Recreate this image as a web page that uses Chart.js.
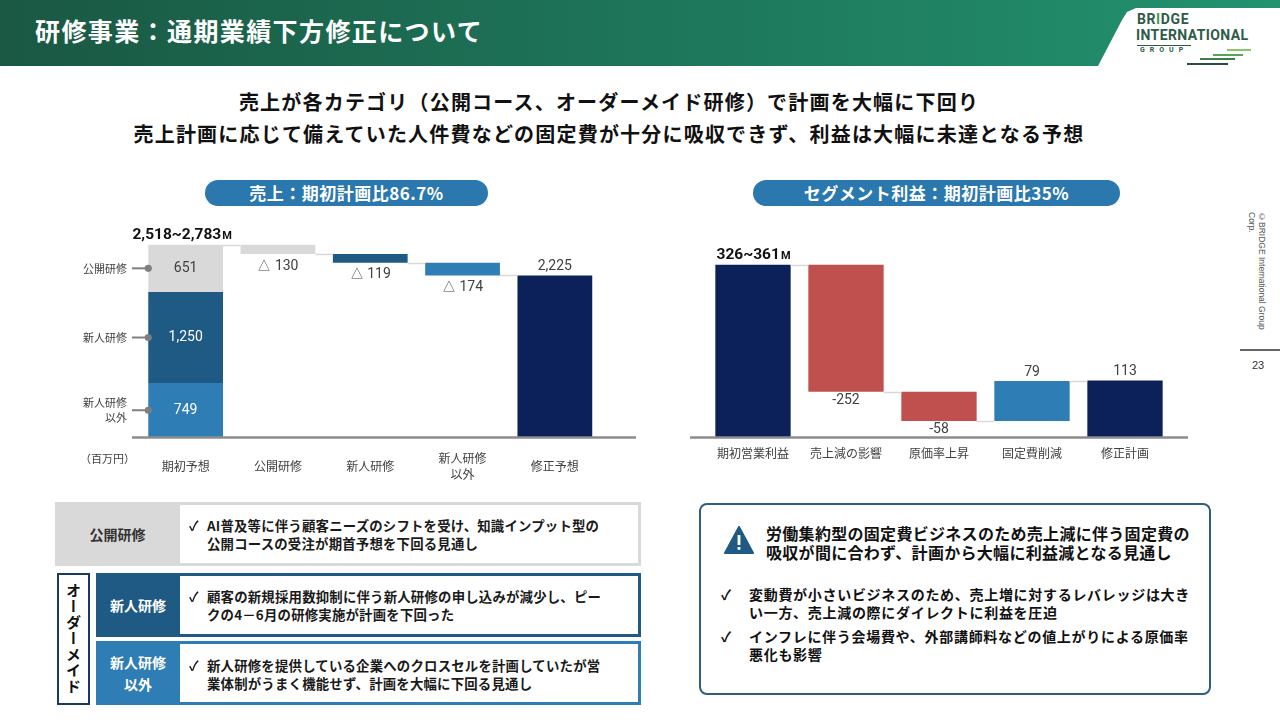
<!DOCTYPE html>
<html lang="ja">
<head>
<meta charset="utf-8">
<script src="https://cdn.jsdelivr.net/npm/chart.js@4.4.1/dist/chart.umd.min.js"></script>
<style>
  body { margin:0; width:1280px; height:720px; position:relative; overflow:hidden; background:#fff;
         font-family:"Noto Sans CJK JP", sans-serif; color:#222; }
  .abs { position:absolute; }
  .band { left:0; top:0; width:1280px; height:66px;
          background:linear-gradient(90deg, #1a5843 0%, #1d7257 45%, #22926f 100%);
          clip-path:polygon(0 0, 100% 0, 100% 8px, 1136px 8px, 1127px 12px, 1122px 20px, 1098px 66px, 0 66px); }
  .title { left:35px; top:12px; font-size:25px; font-weight:700; color:#fff; letter-spacing:1.4px; }
  .lead { left:0; width:1218px; text-align:center; font-size:20px; font-weight:700; color:#111; letter-spacing:1.2px; }
  .pill { height:26px; line-height:26px; border-radius:13px; background:#2a78ae; color:#fff;
          font-size:17px; font-weight:700; text-align:center; letter-spacing:0.5px; }
  .logo { color:#2d5b46; font-weight:700; font-family:"Roboto", sans-serif; }
  .stripe { height:2px; }
  .box { border:3px solid #d9d9d9; box-sizing:border-box; background:#fff; }
  .lab { display:flex; align-items:center; justify-content:center; text-align:center;
         font-size:14px; font-weight:700; line-height:22px; }
  .txt { font-size:13.4px; font-weight:700; line-height:18px; color:#1a1a1a; letter-spacing:0.2px; }
  .chk { position:absolute; left:0; top:0; }
</style>
</head>
<body>
<div class="abs band"></div>
<div class="abs title">研修事業：通期業績下方修正について</div>

<div class="abs logo" style="left:1137px; top:11px; font-size:14px; letter-spacing:0.6px;">BR<span style="color:#3f9b4c">I</span>DGE</div>
<div class="abs logo" style="left:1136px; top:27px; font-size:14px; letter-spacing:0.4px;">INTERNATIONAL</div>
<div class="abs" style="left:1137px; top:45px; width:54px; height:1px; background:#2d5b46;"></div>
<div class="abs logo" style="left:1140px; top:46px; font-size:7px; letter-spacing:5px;">GROUP</div>
<div class="abs stripe" style="left:1227px; top:49px; width:24px; background:#8cc56a;"></div>
<div class="abs stripe" style="left:1213px; top:54px; width:30px; background:#5aa552;"></div>
<div class="abs stripe" style="left:1200px; top:58px; width:35px; background:#3b7d4c;"></div>
<div class="abs stripe" style="left:1187px; top:63px; width:41px; background:#27503b;"></div>

<div class="abs lead" style="top:87px;">売上が各カテゴリ（公開コース、オーダーメイド研修）で計画を大幅に下回り</div>
<div class="abs lead" style="top:119px;">売上計画に応じて備えていた人件費などの固定費が十分に吸収できず、利益は大幅に未達となる予想</div>

<div class="abs pill" style="left:205px; top:180px; width:283px;">売上：期初計画比86.7%</div>
<div class="abs pill" style="left:753px; top:180px; width:367px;">セグメント利益：期初計画比35%</div>

<canvas id="sales" class="abs" style="left:60px; top:215px;" width="590" height="275"></canvas>
<canvas id="profit" class="abs" style="left:680px; top:215px;" width="520" height="275"></canvas>
<div class="abs" style="left:80px; top:450px; font-size:11px; color:#404040;">（百万円）</div>

<div class="abs" style="left:1247px; top:212px; height:132px; writing-mode:vertical-rl; font-family:'Liberation Sans', sans-serif; font-size:8.5px; line-height:10px; color:#555;">©BRIDGE International Group Corp.</div>
<div class="abs" style="left:1240px; top:349px; width:40px; height:2px; background:#666;"></div>
<div class="abs" style="left:1252px; top:359px; font-family:'Liberation Sans', sans-serif; font-size:11px; color:#333;">23</div>

<!-- bottom left -->
<div class="abs box" style="left:55px; top:502px; width:586px; height:64px;"></div>
<div class="abs lab" style="left:55px; top:502px; width:125px; height:64px; background:#d9d9d9; color:#333;">公開研修</div>
<div class="abs txt" style="left:189px; top:516px;"><span class="chk">✓</span><div style="margin-left:18px;">AI普及等に伴う顧客ニーズのシフトを受け、知識インプット型の<br>公開コースの受注が期首予想を下回る見通し</div></div>

<div class="abs" style="left:57px; top:573px; width:33px; height:132px; border:2px solid #1b3a5f; box-sizing:border-box;
     display:flex; align-items:center; justify-content:center;">
  <div style="writing-mode:vertical-rl; text-orientation:upright; font-size:15px; font-weight:700; letter-spacing:1px; color:#111;">オーダーメイド</div>
</div>

<div class="abs box" style="left:96px; top:573px; width:545px; height:64px; border-color:#1f5a85;"></div>
<div class="abs lab" style="left:96px; top:573px; width:84px; height:64px; background:#1f5a85; color:#fff;">新人研修</div>
<div class="abs txt" style="left:189px; top:587px;"><span class="chk">✓</span><div style="margin-left:18px;">顧客の新規採用数抑制に伴う新人研修の申し込みが減少し、ピー<br>クの4－6月の研修実施が計画を下回った</div></div>

<div class="abs box" style="left:96px; top:641px; width:545px; height:64px; border-color:#2e7db5;"></div>
<div class="abs lab" style="left:96px; top:641px; width:84px; height:64px; background:#2e7db5; color:#fff;">新人研修<br>以外</div>
<div class="abs txt" style="left:189px; top:656px;"><span class="chk">✓</span><div style="margin-left:18px;">新人研修を提供している企業へのクロスセルを計画していたが営<br>業体制がうまく機能せず、計画を大幅に下回る見通し</div></div>

<!-- bottom right -->
<div class="abs" style="left:699px; top:503px; width:512px; height:192px; border:2px solid #2f5f7f; border-radius:8px; box-sizing:border-box;"></div>
<svg class="abs" style="left:724px; top:526px;" width="30" height="28" viewBox="0 0 30 28">
  <path d="M15 1 L29 27 L1 27 Z" fill="#1f5a85" stroke="#1f5a85" stroke-width="2" stroke-linejoin="round"/>
  <rect x="13.6" y="9" width="2.8" height="10" fill="#fff"/>
  <rect x="13.6" y="21" width="2.8" height="2.8" fill="#fff"/>
</svg>
<div class="abs" style="left:766px; top:524px; font-size:16px; font-weight:700; line-height:19px; color:#111; letter-spacing:0.3px;">労働集約型の固定費ビジネスのため売上減に伴う固定費の<br>吸収が間に合わず、計画から大幅に利益減となる見通し</div>
<div class="abs" style="left:721px; top:585px; font-size:14px; font-weight:700; line-height:18px; color:#111;">✓</div>
<div class="abs" style="left:749px; top:585px; font-size:14px; font-weight:700; line-height:18px; color:#111; letter-spacing:0.7px;">変動費が小さいビジネスのため、売上増に対するレバレッジは大き<br>い一方、売上減の際にダイレクトに利益を圧迫</div>
<div class="abs" style="left:721px; top:627px; font-size:14px; font-weight:700; line-height:18px; color:#111;">✓</div>
<div class="abs" style="left:749px; top:627px; font-size:14px; font-weight:700; line-height:18px; color:#111; letter-spacing:0.7px;">インフレに伴う会場費や、外部講師料などの値上がりによる原価率<br>悪化も影響</div>

<script>
// ---- 売上 (百万円)
const salesCategories = ['期初予想', '公開研修', '新人研修', ['新人研修', '以外'], '修正予想'];
const salesSegmentNames = [['新人研修', '以外'], ['新人研修'], ['公開研修']]; // bottom -> top
const salesInitial = [749, 1250, 651];       // 新人研修以外, 新人研修, 公開研修
const salesDecrease = [130, 119, 174];       // 公開研修, 新人研修, 新人研修以外
const salesRevised = 2225;
const salesInitialRange = '2,518~2,783';
const salesAxisMax = 2920;

// ---- セグメント利益 (百万円)
const profitCategories = ['期初営業利益', '売上減の影響', '原価率上昇', '固定費削減', '修正計画'];
const profitInitial = 343;
const profitChanges = [-252, -58, 79];
const profitRevised = 113;
const profitInitialRange = '326~361';
const profitAxisMax = 422;

const NAVY = '#0c2159', DARK = '#1f5a85', MID = '#2e7db5', GRAY = '#d9d9d9', RED = '#c0504d';
const fmt = v => v.toLocaleString('en-US');

// floating ranges for the sales waterfall
const salesTotal = salesInitial.reduce((a, b) => a + b, 0);
let acc = 0;
const salesStack = salesInitial.map(v => { const r = [acc, acc + v]; acc += v; return r; });
let lvl = salesTotal;
const salesDrop = salesDecrease.map(v => { const r = [lvl - v, lvl]; lvl -= v; return r; });
const salesLevels = [salesTotal, salesDrop[0][0], salesDrop[1][0], salesDrop[2][0]];

const salesGray = [salesStack[2], salesDrop[0], null, null, null];
const salesDark = [salesStack[1], null, salesDrop[1], null, null];
const salesMid = [salesStack[0], null, null, salesDrop[2], null];
const salesNavy = [null, null, null, null, [0, salesRevised]];

// floating ranges for the profit waterfall
let p = profitInitial;
const profitSteps = profitChanges.map(v => { const r = [p, p + v]; p += v; return r; });
const profitNavy = [[0, profitInitial], null, null, null, [0, profitRevised]];
const profitRed = [null, profitSteps[0], profitSteps[1], null, null];
const profitBlue = [null, null, null, profitSteps[2], null];
const profitLevels = [profitInitial, profitSteps[0][1], profitSteps[1][1], profitSteps[2][1]];

function barDs(data, color) {
  return { data: data, backgroundColor: color, borderWidth: 0, grouped: false,
           barPercentage: 0.81, categoryPercentage: 1 };
}

function xAxis(pad, height) {
  return {
    grid: { display: false, drawTicks: false }, border: { display: false },
    ticks: { color: '#404040', padding: pad, crossAlign: 'center',
             font: { family: 'Noto Sans CJK JP', size: 12, lineHeight: 1.35 } },
    afterFit: s => { s.height = height; }
  };
}

function text(ctx, s, x, y, opt) {
  ctx.save();
  ctx.font = opt.font;
  ctx.fillStyle = opt.color || '#404040';
  ctx.textAlign = opt.align || 'center';
  ctx.textBaseline = 'middle';
  ctx.fillText(s, x, y);
  ctx.restore();
}

// draws the "xxx~yyyM" heading with a small M
function rangeLabel(ctx, s, cx, y) {
  ctx.save();
  ctx.font = 'bold 15.5px Roboto';
  const w1 = ctx.measureText(s).width;
  ctx.font = 'bold 11px Roboto';
  const w2 = ctx.measureText('M').width;
  let x = cx - (w1 + w2) / 2;
  ctx.fillStyle = '#111';
  ctx.textBaseline = 'alphabetic';
  ctx.font = 'bold 15.5px Roboto';
  ctx.fillText(s, x, y);
  ctx.font = 'bold 11px Roboto';
  ctx.fillText('M', x + w1 + 1, y);
  ctx.restore();
}

function line(ctx, x1, y1, x2, y2, color, w) {
  ctx.save();
  ctx.strokeStyle = color; ctx.lineWidth = w;
  ctx.beginPath(); ctx.moveTo(x1, y1); ctx.lineTo(x2, y2); ctx.stroke();
  ctx.restore();
}

function connectors(chart, levels, order) {
  const ctx = chart.ctx, y = chart.scales.y;
  for (let i = 0; i < levels.length; i++) {
    const a = order[i], b = order[i + 1];
    const yy = Math.round(y.getPixelForValue(levels[i])) + 0.5;
    line(ctx, a.x + a.width / 2, yy, b.x - b.width / 2, yy, '#d9d9d9', 1.5);
  }
}

const salesLabels = {
  id: 'salesLabels',
  afterDatasetsDraw(chart) {
    const ctx = chart.ctx, ys = chart.scales.y;
    const m = i => chart.getDatasetMeta(i).data;
    const g = m(0), d = m(1), md = m(2), n = m(3);
    const base = ys.getPixelForValue(0);
    line(ctx, 72, base, 576, base, '#8c8c8c', 2.5);
    connectors(chart, salesLevels, [g[0], g[1], d[2], md[3], n[4]]);

    const segEls = [md[0], d[0], g[0]];
    const segColors = ['#fff', '#fff', '#404040'];
    const numFont = '14px Roboto';
    segEls.forEach((el, i) => {
      const cy = (el.y + el.base) / 2;
      text(ctx, fmt(salesInitial[i]), el.x, cy, { font: numFont, color: segColors[i] });
      const left = el.x - el.width / 2;
      line(ctx, 72, cy, left, cy, '#7f7f7f', 2);
      ctx.save(); ctx.fillStyle = '#7f7f7f';
      ctx.beginPath(); ctx.arc(left, cy, 3.6, 0, Math.PI * 2); ctx.fill(); ctx.restore();
      const names = salesSegmentNames[i];
      names.forEach((t, k) => text(ctx, t, 67, cy + (k - (names.length - 1) / 2) * 15,
        { font: '11px "Noto Sans CJK JP"', color: '#404040', align: 'right' }));
    });
    [g[1], d[2], md[3]].forEach((el, i) => {
      text(ctx, '△ ' + fmt(salesDecrease[i]), el.x, Math.max(el.y, el.base) + 12, { font: numFont });
    });
    text(ctx, fmt(salesRevised), n[4].x, n[4].y - 9, { font: numFont });
    rangeLabel(ctx, salesInitialRange, g[0].x - 4, g[0].y - 6);
  }
};

const profitLabels = {
  id: 'profitLabels',
  afterDatasetsDraw(chart) {
    const ctx = chart.ctx, ys = chart.scales.y;
    const m = i => chart.getDatasetMeta(i).data;
    const n = m(0), r = m(1), b = m(2);
    const base = ys.getPixelForValue(0);
    line(ctx, 10, base, 508, base, '#8c8c8c', 2.5);
    connectors(chart, profitLevels, [n[0], r[1], r[2], b[3], n[4]]);
    const numFont = '14px Roboto';
    const changeEls = [r[1], r[2], b[3]];
    changeEls.forEach((el, i) => {
      const v = profitChanges[i];
      if (v < 0) text(ctx, String(v), el.x, Math.max(el.y, el.base) + 9, { font: numFont });
      else text(ctx, String(v), el.x, Math.min(el.y, el.base) - 9, { font: numFont });
    });
    text(ctx, fmt(profitRevised), n[4].x, n[4].y - 9, { font: numFont });
    rangeLabel(ctx, profitInitialRange, n[0].x, n[0].y - 6);
  }
};

Chart.defaults.font.family = 'Noto Sans CJK JP';

new Chart(document.getElementById('sales'), {
  type: 'bar',
  data: {
    labels: salesCategories,
    datasets: [barDs(salesGray, GRAY), barDs(salesDark, DARK), barDs(salesMid, MID), barDs(salesNavy, NAVY)]
  },
  options: {
    responsive: false, animation: false,
    layout: { padding: { left: 79.5, right: 49, top: 10, bottom: 0 } },
    plugins: { legend: { display: false }, tooltip: { enabled: false } },
    scales: {
      x: xAxis(21, 52.5),
      y: { display: false, min: 0, max: salesAxisMax }
    }
  },
  plugins: [salesLabels]
});

new Chart(document.getElementById('profit'), {
  type: 'bar',
  data: {
    labels: profitCategories,
    datasets: [barDs(profitNavy, NAVY), barDs(profitRed, RED), barDs(profitBlue, MID)]
  },
  options: {
    responsive: false, animation: false,
    layout: { padding: { left: 26.5, right: 28.5, top: 10, bottom: 0 } },
    plugins: { legend: { display: false }, tooltip: { enabled: false } },
    scales: {
      x: xAxis(16, 52.5),
      y: { display: false, min: 0, max: profitAxisMax }
    }
  },
  plugins: [profitLabels]
});
</script>
</body>
</html>
